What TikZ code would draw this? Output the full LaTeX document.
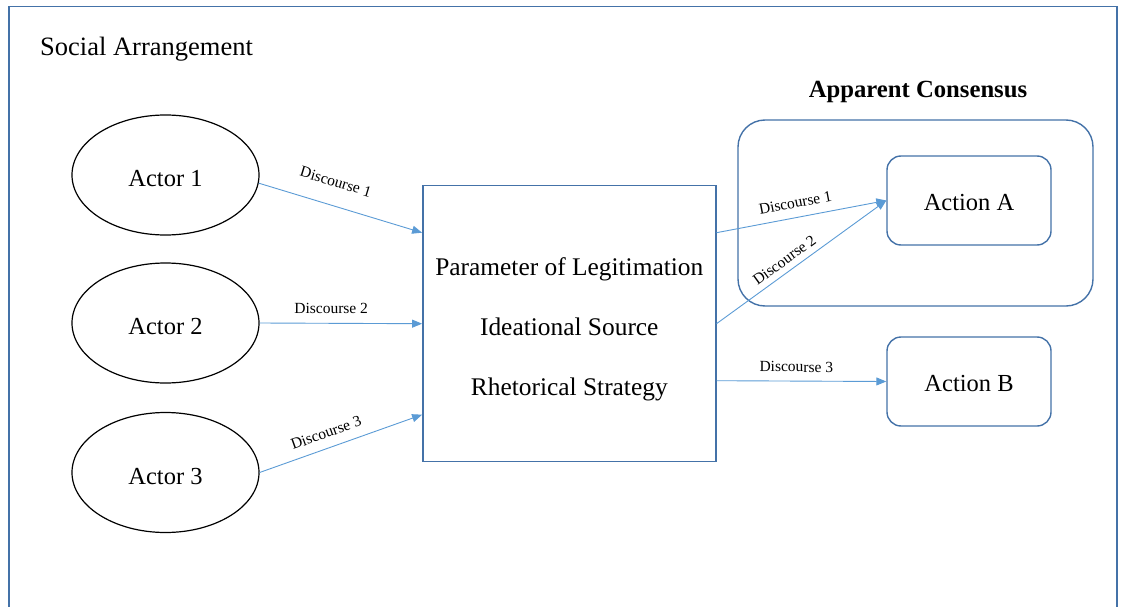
\documentclass[tikz,border=0pt]{standalone}
\usepackage{fontspec}
\setmainfont{Liberation Serif}
\usetikzlibrary{shapes.geometric,arrows.meta}
\definecolor{frameblue}{RGB}{68,114,168}
\definecolor{arrowblue}{RGB}{91,155,213}
\begin{document}
\begin{tikzpicture}[x=1pt,y=-1pt,
  actor/.style={ellipse,draw=black,line width=1.2pt,minimum width=187pt,minimum height=120pt,inner sep=0pt,text height=23pt,text depth=0pt,font=\fontsize{24.5}{29}\selectfont},
  mainbox/.style={rectangle,draw=frameblue,line width=1.4pt,minimum width=293pt,minimum height=276pt,inner sep=0pt},
  boxtext/.style={align=center,inner sep=0pt,font=\fontsize{25.4}{60}\selectfont},
  actbox/.style={rectangle,rounded corners=14pt,draw=frameblue,line width=1.4pt,minimum width=164pt,minimum height=89pt,inner sep=0pt,text height=20pt,text depth=0pt,font=\fontsize{24.5}{29}\selectfont},
  groupbox/.style={rectangle,rounded corners=27pt,draw=frameblue,line width=1.4pt,minimum width=355pt,minimum height=186pt,inner sep=0pt},
  flow/.style={draw=arrowblue,line width=0.9pt,-{Triangle[length=10pt,width=8pt]}},
  lbl/.style={font=\fontsize{15.5}{18}\selectfont,inner sep=0pt,sloped}
]
\useasboundingbox (0,0) rectangle (1129,607);
\draw[frameblue,line width=1.2pt] (9,608) -- (9,6.5) -- (1117,6.5) -- (1117,608);

\node[anchor=base west,font=\fontsize{26.5}{30}\selectfont,inner sep=0pt] (title) at (40,55.5) {Social Arrangement};
\node[anchor=base,font=\bfseries\fontsize{24.7}{30}\selectfont,inner sep=0pt] (constitle) at (918,97.2) {Apparent Consensus};

\node[groupbox] (cons) at (915.5,213) {};
\node[actor] (a1) at (165.5,175) {Actor 1};
\node[actor] (a2) at (165.5,323) {Actor 2};
\node[actor] (a3) at (165.5,472.5) {Actor 3};
\node[mainbox] (box) at (569.3,323.7) {};
\node[boxtext] (boxtxt) at ([yshift=-5.5pt]box.center) {Parameter of Legitimation\\Ideational Source\\Rhetorical Strategy};
\node[actbox] (actA) at (969,200.5) {Action A};
\node[actbox] (actB) at (969,381.5) {Action B};

\draw[flow] (a1.-5) -- node[lbl,above=18pt,pos=0.43] {Discourse 1} ([yshift=91pt]box.west);
\draw[flow] (a2.east) -- node[lbl,above=9pt,pos=0.44] {Discourse 2} (box.west);
\draw[flow] (a3.east) -- node[lbl,above=9.5pt,pos=0.44] {Discourse 3} ([yshift=-91pt]box.west);

\draw[flow] ([yshift=91pt]box.east) -- node[lbl,above=9pt,pos=0.48] {Discourse 1} (actA.west);
\draw[flow] (box.east) -- node[lbl,above=6pt,pos=0.44] {Discourse 2} (actA.west);
\draw[flow] ([yshift=-57pt]box.east) -- node[lbl,above=8.5pt,pos=0.47] {Discourse 3} (actB.west);
\end{tikzpicture}
\end{document}
